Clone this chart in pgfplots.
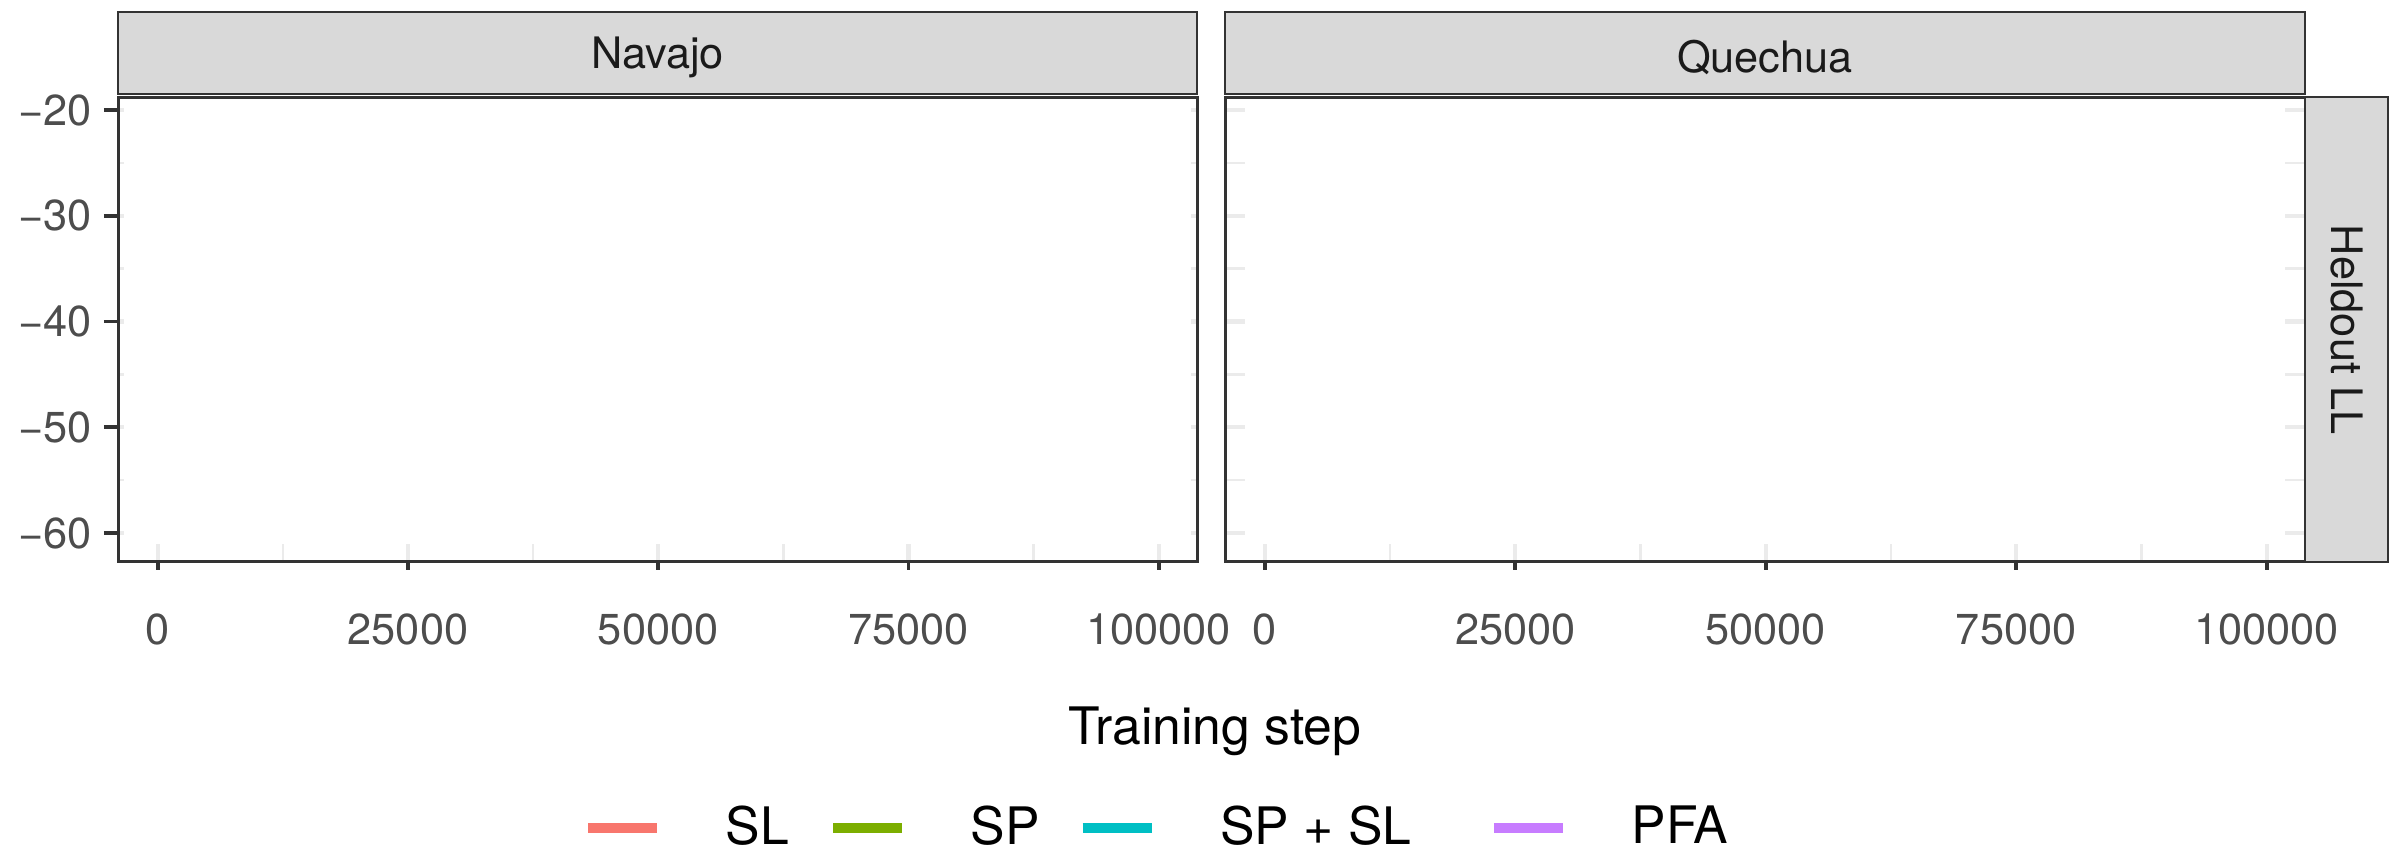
\documentclass[border=0pt]{standalone}
\usepackage{fontspec}
\setmainfont{TeX Gyre Heros}
\usepackage{pgfplots}
\pgfplotsset{compat=1.18}
\definecolor{frame}{HTML}{333333}
\definecolor{gridc}{HTML}{EBEBEB}
\definecolor{stripbg}{HTML}{D9D9D9}
\definecolor{ticklab}{HTML}{4D4D4D}
\definecolor{striptext}{HTML}{1A1A1A}
\definecolor{cSL}{HTML}{F8766D}
\definecolor{cSP}{HTML}{7CAE00}
\definecolor{cSPSL}{HTML}{00BFC4}
\definecolor{cPFA}{HTML}{C77CFF}
\newcommand{\tickfont}{\fontsize{13}{15}\selectfont}
\newcommand{\bigfont}{\fontsize{15.5}{18}\selectfont}
\pgfplotsset{
  panel/.style={scale only axis, width=323.7pt, height=139.35pt,
    xmin=-3966, xmax=103826, ymin=-62.72, ymax=-18.8, anchor=south west,
    scaled x ticks=false, scaled y ticks=false},
  stubsx/.style={panel, axis line style={draw=none}, tick align=inside,
    xtick={0,25000,50000,75000,100000}, minor xtick={12500,37500,62500,87500},
    ytick=\empty, xticklabels={}, xtick pos=bottom,
    major tick length=5.4pt, minor tick length=5.4pt,
    major tick style={gridc, line width=1.3pt}, minor tick style={gridc, line width=0.7pt}},
  stubsy/.style={panel, axis line style={draw=none}, tick align=inside,
    ytick={-60,-50,-40,-30,-20}, minor ytick={-55,-45,-35,-25},
    xtick=\empty, yticklabels={}, ytick pos=both,
    major tick length=#1, minor tick length=#1,
    major tick style={gridc, line width=1.3pt}, minor tick style={gridc, line width=0.7pt}},
  xaxisticks/.style={panel, axis line style={draw=none}, tick align=outside,
    xtick={0,25000,50000,75000,100000}, xticklabels={0,25000,50000,75000,100000},
    ytick=\empty, xtick pos=bottom, major tick length=2.4pt,
    major tick style={frame, line width=1.1pt},
    xticklabel style={font=\tickfont, text=ticklab, anchor=north, inner sep=0pt},
    xticklabel shift=13pt},
  mainbox/.style={panel, axis line style={frame, line width=0.9pt},
    xtick=\empty},
}
\begin{document}
\begin{tikzpicture}
\useasboundingbox (0,0) rectangle (720pt,257.1pt);
% ---------- Navajo ----------
\begin{axis}[stubsx, at={(35.4pt,88.56pt)}]
\end{axis}
\begin{axis}[stubsy=1.8pt, at={(35.4pt,88.56pt)}]
\end{axis}
\begin{axis}[xaxisticks, at={(35.4pt,88.56pt)}]
\end{axis}
\begin{axis}[mainbox, at={(35.4pt,88.56pt)},
  ytick={-60,-50,-40,-30,-20}, yticklabels={−60,−50,−40,−30,−20},
  ytick pos=left, tick align=outside, major tick length=4.2pt,
  major tick style={frame, line width=1.1pt},
  yticklabel style={font=\tickfont, text=ticklab, anchor=east, inner sep=0pt},
  yticklabel shift=3.5pt,
  legend columns=4,
  legend image code/.code={\draw[line width=3pt] (0pt,0pt) -- (20.7pt,0pt);},
  legend style={draw=none, fill=none, inner sep=0pt, font=\bigfont,
    nodes={inner sep=0pt},
    at={(axis description cs:0.4304,-0.572)}, anchor=west,
    /tikz/every odd column/.append style={column sep=19.1pt},
    /tikz/every even column/.append style={column sep=0pt}},
  legend cell align=left]
\addlegendimage{cSL}\addlegendentry{SL\hspace*{11.8pt}}
\addlegendimage{cSP}\addlegendentry{SP\hspace*{11.3pt}}
\addlegendimage{cSPSL}\addlegendentry{SP + SL\hspace*{23.3pt}}
\addlegendimage{cPFA}\addlegendentry{PFA}
\end{axis}
% ---------- Quechua ----------
\begin{axis}[stubsx, at={(367.5pt,88.56pt)}, width=324pt]
\end{axis}
\begin{axis}[stubsy=6pt, at={(367.5pt,88.56pt)}, width=324pt]
\end{axis}
\begin{axis}[xaxisticks, at={(367.5pt,88.56pt)}, width=324pt]
\end{axis}
\begin{axis}[mainbox, at={(367.5pt,88.56pt)}, width=324pt, ytick=\empty]
\end{axis}
% ---------- strips ----------
\draw[fill=stripbg, draw=frame, line width=0.7pt] (35.4pt,228.8pt) rectangle (359.1pt,253.4pt);
\node[font=\tickfont, text=striptext] at (197.25pt,239.8pt) {Navajo};
\draw[fill=stripbg, draw=frame, line width=0.7pt] (367.5pt,228.8pt) rectangle (691.5pt,253.4pt);
\node[font=\tickfont, text=striptext] at (529.5pt,239.8pt) {Quechua};
\draw[fill=stripbg, draw=frame, line width=0.7pt] (691.5pt,88.56pt) rectangle (716.4pt,227.9pt);
\node[font=\tickfont, text=striptext, rotate=-90] at (703.95pt,158.2pt) {Heldout LL};
% ---------- axis title ----------
\node[font=\bigfont, anchor=base] at (364.5pt,33.8pt) {Training step};
\end{tikzpicture}
\end{document}
